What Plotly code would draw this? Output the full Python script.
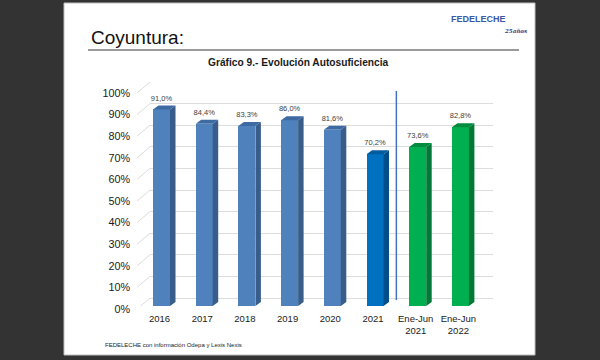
import plotly.graph_objects as go

# ---------------- data ----------------
categories = ["2016", "2017", "2018", "2019", "2020", "2021", "Ene-Jun<br>2021", "Ene-Jun<br>2022"]
values = [91.0, 84.4, 83.3, 86.0, 81.6, 70.2, 73.6, 82.8]
front_colors = ["#4F81BD", "#4F81BD", "#4F81BD", "#4F81BD", "#4F81BD", "#0070C0", "#00B050", "#00B050"]
side_colors = ["#385D8A", "#385D8A", "#385D8A", "#385D8A", "#385D8A", "#004F8A", "#007A37", "#007A37"]
top_colors = ["#3E6AA3", "#3E6AA3", "#3E6AA3", "#3E6AA3", "#3E6AA3", "#005C9E", "#008C3F", "#008C3F"]
y_ticks = list(range(0, 101, 10))

# ---------------- geometry helpers ----------------
W, H = 600, 360
STEP_PX = 42.7          # pixel distance between categories
FIRST_PX = 161.5        # pixel centre of first bar
PX_PER_PCT = 2.16       # vertical pixels per percent
BASE_PX = 306           # pixel row of 0 % on bar scale
TOP_PX = 82             # top of plot area
X_LEFT_PX, X_RIGHT_PX = 137, 493
WALL_LEFT_PX = 150
GRID_SHIFT_PX = 8       # back wall grid is shifted up
LABEL_SHIFT_PX = 3      # tick labels sit slightly below bar scale


def px2x(px):
    return (px - FIRST_PX) / STEP_PX


y_top = (BASE_PX - TOP_PX) / PX_PER_PCT
grid_off = GRID_SHIFT_PX / PX_PER_PCT
bar_w = 17 / STEP_PX
dx = 5.5 / STEP_PX
dy = 4 / PX_PER_PCT
ydom = [(H - BASE_PX) / H, (H - TOP_PX) / H]

fig = go.Figure()

# invisible trace so the back-wall grid subplot exists
fig.add_trace(go.Scatter(x=[None], y=[None], xaxis="x", yaxis="y", showlegend=False, hoverinfo="skip"))

# left side wall diagonals
dx_list, dy_list = [], []
for t in y_ticks:
    dx_list += [px2x(X_LEFT_PX), px2x(WALL_LEFT_PX), None]
    dy_list += [t - LABEL_SHIFT_PX / PX_PER_PCT, t + grid_off, None]
fig.add_trace(go.Scatter(x=dx_list, y=dy_list, mode="lines", xaxis="x2", yaxis="y2",
                         line=dict(color="#DCDCDC", width=1), showlegend=False, hoverinfo="skip"))

xs = list(range(len(values)))

# front faces
fig.add_trace(go.Bar(x=xs, y=values, width=bar_w, marker=dict(color=front_colors, line=dict(width=0)),
                     xaxis="x2", yaxis="y2", showlegend=False, hoverinfo="skip"))

# side and top faces (3D effect)
for i, v in enumerate(values):
    xr = i + bar_w / 2
    xl = i - bar_w / 2
    fig.add_trace(go.Scatter(x=[xr, xr + dx, xr + dx, xr, xr], y=[0, dy, v + dy, v, 0],
                             fill="toself", fillcolor=side_colors[i], mode="lines",
                             line=dict(width=0, color=side_colors[i]),
                             xaxis="x2", yaxis="y2", showlegend=False, hoverinfo="skip"))
    fig.add_trace(go.Scatter(x=[xl, xr, xr + dx, xl + dx, xl], y=[v, v, v + dy, v + dy, v],
                             fill="toself", fillcolor=top_colors[i], mode="lines",
                             line=dict(width=0, color=top_colors[i]),
                             xaxis="x2", yaxis="y2", showlegend=False, hoverinfo="skip"))

# data labels
labels = [f"{v:.1f}%".replace(".", ",") for v in values]
fig.add_trace(go.Scatter(x=xs, y=[v + dy + 3 / PX_PER_PCT for v in values], text=labels, mode="text",
                         textposition="top center",
                         textfont=dict(family="Liberation Sans, Arial", size=7.5, color="#404040"),
                         xaxis="x2", yaxis="y2", showlegend=False, hoverinfo="skip"))

# ---------------- layout ----------------
shapes = [
    # slide
    dict(type="rect", xref="paper", yref="paper", x0=64 / W, x1=535 / W, y0=1 - 355 / H, y1=1 - 3 / H,
         fillcolor="white", line=dict(color="#BFBFBF", width=1), layer="below"),
    # title underline
    dict(type="line", xref="paper", yref="paper", x0=88 / W, x1=519 / W, y0=1 - 50 / H, y1=1 - 50 / H,
         line=dict(color="#9A9A9A", width=2)),
    # separator
    dict(type="line", xref="x2", yref="y2", x0=5.5, x1=5.5,
         y0=(BASE_PX - 300) / PX_PER_PCT, y1=(BASE_PX - 91) / PX_PER_PCT,
         line=dict(color="#4472C4", width=1.5)),
]

annotations = [
    dict(text="Coyuntura:", x=89 / W, y=1 - 38 / H, xref="paper", yref="paper", xanchor="left",
         yanchor="middle", showarrow=False, font=dict(family="Liberation Sans, Arial", size=19, color="#111111")),
    dict(text="<b>Gráfico 9.- Evolución Autosuficiencia</b>", x=298 / W, y=1 - 62 / H, xref="paper",
         yref="paper", xanchor="center", yanchor="middle", showarrow=False,
         font=dict(family="Liberation Sans, Arial", size=10.2, color="#1A1A1A")),
    dict(text="FEDELECHE con información Odepa y Lexis Nexis", x=103 / W, y=1 - 345 / H, xref="paper",
         yref="paper", xanchor="left", yanchor="middle", showarrow=False,
         font=dict(family="Liberation Sans, Arial", size=6, color="#222222")),
    dict(text="<b>FEDELECHE</b>", x=478 / W, y=1 - 19 / H, xref="paper", yref="paper", xanchor="center",
         yanchor="middle", showarrow=False, font=dict(family="Liberation Sans, Arial", size=9, color="#3B57A8")),
    dict(text="<b><i>25años</i></b>", x=515 / W, y=1 - 31 / H, xref="paper", yref="paper", xanchor="center",
         yanchor="middle", showarrow=False, font=dict(family="DejaVu Serif", size=5.5, color="#2D3F8F")),
]

fig.update_layout(
    width=W, height=H,
    margin=dict(l=0, r=0, t=0, b=0, autoexpand=False),
    paper_bgcolor="#333333",
    plot_bgcolor="rgba(0,0,0,0)",
    showlegend=False,
    bargap=0,
    shapes=shapes,
    annotations=annotations,
    # back wall grid subplot
    xaxis=dict(domain=[WALL_LEFT_PX / W, X_RIGHT_PX / W], range=[0, 1], visible=False, fixedrange=True),
    yaxis=dict(domain=ydom, range=[-grid_off, y_top - grid_off], tickvals=y_ticks, showticklabels=False,
               showgrid=True, gridcolor="#DCDCDC", gridwidth=1, zeroline=False, showline=False,
               anchor="x", fixedrange=True),
    # bars subplot
    xaxis2=dict(domain=[X_LEFT_PX / W, X_RIGHT_PX / W], range=[px2x(X_LEFT_PX), px2x(X_RIGHT_PX)],
                tickvals=xs, ticktext=categories, showgrid=False, zeroline=False, showline=False,
                ticks="", anchor="y2", ticklabelstandoff=5, ticklabelshift=-2,
                tickfont=dict(family="Liberation Sans, Arial", size=9.5, color="#1A1A1A"), fixedrange=True),
    yaxis2=dict(domain=ydom, range=[0, y_top], tickvals=y_ticks, ticktext=[f"{t}%" for t in y_ticks],
                showgrid=False, zeroline=False, showline=False, ticks="", anchor="x2",
                ticklabelshift=LABEL_SHIFT_PX, ticklabelstandoff=6,
                tickfont=dict(family="Liberation Sans, Arial", size=10.8, color="#1A1A1A"), fixedrange=True),
)

fig.write_html("out.html", config={"displayModeBar": False},
               post_script="document.body.style.margin='0';document.body.style.background='#333333';")
